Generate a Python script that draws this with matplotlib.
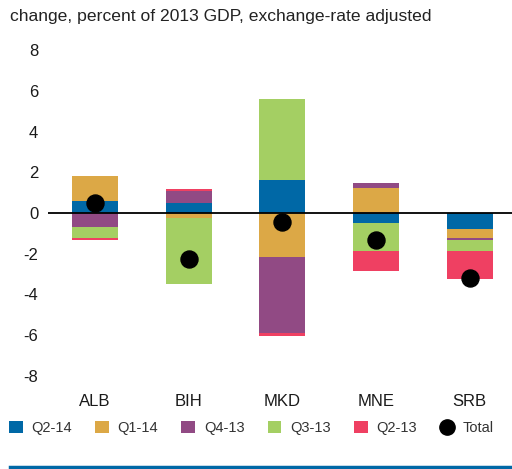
import numpy as np
import matplotlib
matplotlib.use('Agg')
import matplotlib.pyplot as plt
from matplotlib.patches import Patch
from matplotlib.lines import Line2D

# countries and quarterly contributions (percent of 2013 GDP)
countries = ['ALB', 'BIH', 'MKD', 'MNE', 'SRB']
quarters = ['Q2-14', 'Q1-14', 'Q4-13', 'Q3-13', 'Q2-13']
q2_14 = [0.60, 0.50, 1.63, -0.49, -0.79]
q1_14 = [1.20, -0.25, -2.17, 1.23, -0.44]
q4_13 = [-0.70, 0.58, -3.74, 0.25, -0.10]
q3_13 = [-0.55, -3.23, 3.99, -1.38, -0.54]
q2_13 = [-0.06, 0.09, -0.15, -0.99, -1.38]
total = [0.48, -2.28, -0.44, -1.35, -3.20]

colors = ['#0068a6', '#dca846', '#914a84', '#a4cf63', '#ef4062']

plt.rcParams['font.family'] = ['Liberation Sans', 'DejaVu Sans']

fig = plt.figure(figsize=(5.12, 4.69), dpi=100)
ax = fig.add_axes([48 / 512, 83 / 469, 464 / 512, 346 / 469])

x = np.arange(len(countries))
series = [q2_14, q1_14, q4_13, q3_13, q2_13]
pos_base = np.zeros(len(countries))
neg_base = np.zeros(len(countries))
for vals, c in zip(series, colors):
    v = np.array(vals)
    base = np.where(v >= 0, pos_base, neg_base)
    ax.bar(x, v, bottom=base, width=0.49, color=c, linewidth=0)
    pos_base += np.where(v >= 0, v, 0)
    neg_base += np.where(v < 0, v, 0)

ax.axhline(0, color='black', lw=1.3, zorder=3)
ax.scatter(x, total, s=150, color='black', zorder=4)

ax.set_xlim(-0.5, 4.45)
ax.set_ylim(-8.5, 8.5)
ax.set_yticks(range(-8, 9, 2))
ax.set_yticklabels([str(t) for t in range(-8, 9, 2)], fontsize=12)
ax.set_xticks(x)
ax.set_xticklabels(countries, fontsize=12)
ax.tick_params(length=0, pad=7, colors='#1a1a1a')
ax.tick_params(axis='x', pad=6)
for s in ax.spines.values():
    s.set_visible(False)

fig.text(10 / 512, 1 - 16 / 469, 'change, percent of 2013 GDP, exchange-rate adjusted',
         fontsize=12.6, color='#222222', va='center', ha='left')

handles = [Patch(facecolor=c, edgecolor='none') for c in colors]
handles.append(Line2D([], [], marker='o', color='black', linestyle='none', markersize=11))
labels = quarters + ['Total']
fig.legend(handles, labels, loc='center left', bbox_to_anchor=(0.0, 1 - 428 / 469),
           ncol=6, frameon=False, fontsize=10.5, handlelength=0.95, handleheight=0.95,
           handletextpad=0.6, columnspacing=1.58, borderaxespad=0.2,
           labelcolor='#333333')

fig.add_artist(Line2D([10 / 512, 1], [1 - 467 / 469] * 2, color='#0068a6', lw=2.5))

fig.savefig('out.png', dpi=100)
